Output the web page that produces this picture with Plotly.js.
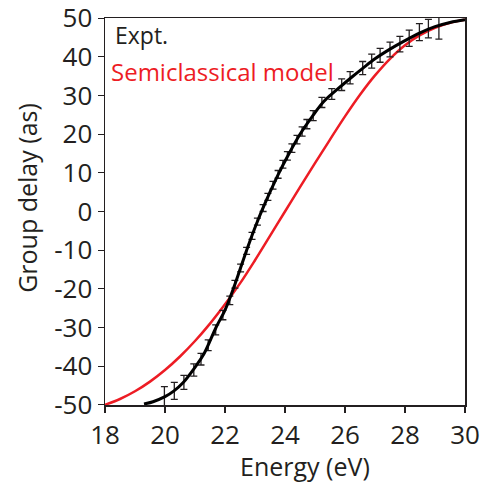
<!DOCTYPE html>
<html>
<head>
<meta charset="utf-8">
<script src="https://cdn.plot.ly/plotly-3.0.1.min.js"></script>
<style>html,body{margin:0;padding:0;background:#fff;}#chart{width:483px;height:484px;}</style>
</head>
<body>
<div id="chart"></div>
<script>
// Semiclassical model curve
const modelEnergy = [18.0,18.5,19.0,19.5,20.0,20.5,21.0,21.5,22.0,22.5,23.0,23.5,24.0,24.5,25.0,25.5,26.0,26.5,27.0,27.5,28.0,28.5,29.0,29.5,30.0];
const modelDelay  = [-50,-48.5,-46.5,-44.0,-41.0,-37.5,-33.5,-29.0,-24.0,-18.6,-12.6,-6.3,0.0,6.3,12.5,18.6,24.6,30.2,35.2,39.5,43.0,45.6,47.5,48.8,49.6];

// Experimental smooth curve
const exptLineEnergy = [19.3,19.6,20.0,20.3,20.6,21.0,21.3,21.7,22.0,22.3,22.5,22.7,22.9,23.1,23.3,23.5,23.8,24.1,24.5,24.9,25.3,25.7,26.2,26.6,27.0,27.5,28.0,28.5,29.0,29.5,30.0];
const exptLineDelay  = [-49.8,-49.2,-47.9,-46.4,-44.3,-40.3,-36.8,-30.0,-25.5,-19.5,-15.0,-10.5,-6.2,-2.2,1.5,5.0,10.0,14.5,20.0,24.5,28.5,31.3,34.6,37.1,39.5,42.0,44.2,46.2,47.8,48.9,49.6];

// Experimental points with error bars
const exptEnergy = [19.98,20.31,20.63,20.96,21.20,21.44,21.69,21.93,22.16,22.33,22.52,22.72,22.90,23.08,23.27,23.43,23.60,23.77,23.93,24.08,24.23,24.40,24.57,24.73,24.94,25.23,25.56,25.89,26.17,26.59,26.89,27.17,27.50,27.83,28.14,28.48,28.78,29.13];
const exptDelay  = [-47.9,-46.4,-44.2,-41.0,-38.2,-34.6,-30.6,-26.8,-23.0,-18.8,-14.6,-10.2,-6.3,-2.6,0.9,3.8,6.8,9.6,12.2,14.4,16.4,18.6,20.7,22.6,24.8,28.2,30.4,32.8,34.6,37.1,38.9,40.4,41.9,43.3,44.8,46.4,47.3,47.6];
const exptError  = [2.6,2.2,1.8,1.6,1.5,1.4,1.3,1.2,1.1,1.0,1.0,0.9,0.9,0.9,0.9,0.9,1.0,1.0,1.0,1.1,1.1,1.1,1.2,1.2,1.3,1.3,1.4,1.5,1.6,1.7,1.8,1.8,1.9,2.0,2.1,2.2,2.4,3.0];

const xTicks = [18,20,22,24,26,28,30];
const yTicks = [-50,-40,-30,-20,-10,0,10,20,30,40,50];

const FONT = "Open Sans, Noto Sans, sans-serif";
const TXT = "#231f20";
const RED = "#ed1c24";

const traces = [
  {x: modelEnergy, y: modelDelay, mode: "lines", line: {color: RED, width: 2.5, shape: "spline", smoothing: 1}, hoverinfo: "none"},
  {x: exptEnergy, y: exptDelay, mode: "markers", marker: {size: 1, color: "rgba(0,0,0,0)"},
   error_y: {type: "data", array: exptError, visible: true, color: TXT, thickness: 1.3, width: 3.5}, hoverinfo: "none"},
  {x: exptLineEnergy, y: exptLineDelay, mode: "lines", line: {color: "#000", width: 3, shape: "spline"}, hoverinfo: "none"}
];

const layout = {
  width: 483, height: 484,
  margin: {l: 105, r: 18, t: 18, b: 79},
  paper_bgcolor: "#fff", plot_bgcolor: "#fff",
  showlegend: false,
  font: {family: FONT, color: TXT},
  xaxis: {
    range: [18, 30], tickvals: xTicks, ticktext: xTicks.map(String),
    showgrid: false, zeroline: false, showline: true, mirror: true,
    linecolor: TXT, linewidth: 1.5, ticks: "outside", ticklen: 6, tickwidth: 1.2, tickcolor: TXT,
    tickfont: {size: 26, family: FONT, color: TXT}, ticklabeloverflow: "allow"
  },
  yaxis: {
    range: [-50.05, 50.05], tickvals: yTicks, ticktext: yTicks.map(String),
    showgrid: false, zeroline: false, showline: true, mirror: true,
    linecolor: TXT, linewidth: 1.5, ticks: "outside", ticklen: 6, tickwidth: 1.2, tickcolor: TXT,
    tickfont: {size: 26, family: FONT, color: TXT}, ticklabeloverflow: "allow"
  },
  annotations: [
    {xref: "paper", yref: "paper", x: 0.022, y: 0.955, xanchor: "left", yanchor: "middle", showarrow: false,
     text: "Expt.", font: {size: 23, family: FONT, color: TXT}},
    {xref: "paper", yref: "paper", x: 0.012, y: 0.862, xanchor: "left", yanchor: "middle", showarrow: false,
     text: "Semiclassical model", font: {size: 24, family: FONT, color: RED}},
    {xref: "paper", yref: "paper", x: 0.556, y: -0.158, xanchor: "center", yanchor: "middle", showarrow: false,
     text: "Energy (eV)", font: {size: 25, family: FONT, color: TXT}},
    {xref: "paper", yref: "paper", x: -0.217, y: 0.535, xanchor: "center", yanchor: "middle", showarrow: false,
     textangle: -90, text: "Group delay (as)", font: {size: 25, family: FONT, color: TXT}}
  ]
};

Plotly.newPlot("chart", traces, layout, {staticPlot: true, displayModeBar: false});
</script>
</body>
</html>
